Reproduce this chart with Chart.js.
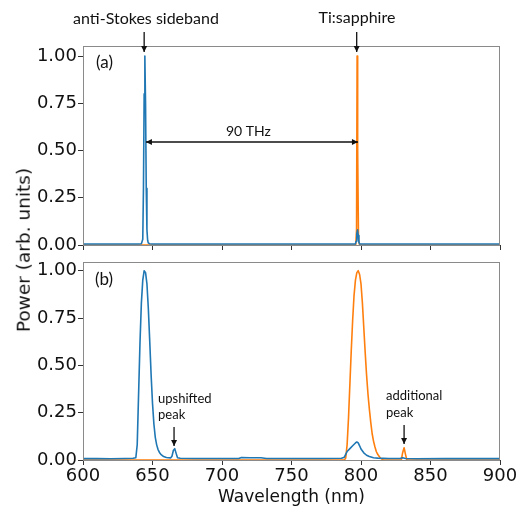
<!DOCTYPE html>
<html>
<head>
<meta charset="utf-8">
<script src="https://cdn.jsdelivr.net/npm/chart.js@4.4.0/dist/chart.umd.min.js"></script>
<style>
  body { margin: 0; background: #fff; }
  #page { position: relative; width: 526px; height: 513px; overflow: hidden; }
  #boxA { position: absolute; left: 0; top: 0; width: 526px; height: 265px; }
  #boxB { position: absolute; left: 0; top: 250px; width: 526px; height: 263px; }
  #ytitle {
    position: absolute; left: 24px; top: 250px;
    transform: translate(-50%, -50%) rotate(-90deg);
    font: 18.5px "DejaVu Sans"; line-height: 1; white-space: nowrap; color: #111;
  }
</style>
</head>
<body>
<div id="page">
  <div id="boxA"><canvas id="chartA" width="526" height="265"></canvas></div>
  <div id="boxB"><canvas id="chartB" width="526" height="263"></canvas></div>
  <div id="ytitle">Power (arb. units)</div>
</div>
<script>
// tick values
var xTicks = [600, 650, 700, 750, 800, 850, 900];
var yTicks = [0, 0.25, 0.5, 0.75, 1.0];

// panel (a) - narrow spectra
var aBlueX = [600, 620, 640, 642, 643, 643.5, 644, 644.5, 645, 645.5, 646, 646.5, 647, 648, 650, 660, 700, 750, 790, 796, 796.5, 797, 797.5, 798, 798.5, 799, 800, 820, 850, 880, 900];
var aBlueY = [0.005, 0.005, 0.005, 0.007, 0.03, 0.3, 0.8, 1.0, 0.75, 0.3, 0.08, 0.025, 0.01, 0.007, 0.005, 0.005, 0.005, 0.005, 0.005, 0.006, 0.02, 0.06, 0.08, 0.05, 0.015, 0.006, 0.005, 0.005, 0.005, 0.005, 0.005];
var aOrangeX = [600, 700, 790, 796.2, 796.8, 797.2, 797.6, 798.2, 799, 850, 900];
var aOrangeY = [0, 0, 0, 0, 0.08, 1.0, 0.5, 0.03, 0, 0, 0];

// panel (b) - broadened spectra
var bBlueX = [600, 610, 620, 630, 636, 638, 639, 640, 641, 642, 643, 644, 645, 646, 647, 648, 649, 650, 651, 652, 653, 654, 655, 656, 658, 660, 663, 664, 665, 666, 667, 668, 670, 680, 690, 700, 712, 714, 720, 728, 732, 750, 770, 786, 788, 789, 790, 792, 794, 796, 797, 798, 799, 800, 802, 804, 806, 809, 812, 820, 828, 830, 832, 840, 860, 880, 900];
var bBlueY = [0.007, 0.008, 0.007, 0.008, 0.009, 0.012, 0.08, 0.35, 0.62, 0.83, 0.95, 1.0, 0.99, 0.93, 0.8, 0.63, 0.45, 0.3, 0.19, 0.12, 0.08, 0.055, 0.04, 0.03, 0.018, 0.013, 0.011, 0.02, 0.05, 0.06, 0.035, 0.012, 0.009, 0.008, 0.008, 0.008, 0.008, 0.013, 0.012, 0.012, 0.008, 0.008, 0.008, 0.009, 0.015, 0.03, 0.045, 0.06, 0.075, 0.09, 0.095, 0.09, 0.075, 0.058, 0.038, 0.025, 0.018, 0.012, 0.01, 0.008, 0.008, 0.012, 0.008, 0.007, 0.007, 0.007, 0.007];
var bOrangeX = [600, 700, 788, 789, 790, 791, 792, 793, 794, 795, 796, 797, 798, 799, 800, 801, 802, 803, 804, 805, 806, 807, 808, 809, 810, 811, 812, 813, 814, 815, 816, 829, 830, 831, 832, 833, 860, 900];
var bOrangeY = [0, 0, 0, 0.01, 0.08, 0.22, 0.4, 0.58, 0.74, 0.87, 0.95, 0.99, 1.0, 0.98, 0.93, 0.83, 0.7, 0.57, 0.45, 0.35, 0.27, 0.2, 0.14, 0.1, 0.07, 0.045, 0.03, 0.02, 0.01, 0.005, 0, 0, 0.04, 0.065, 0.03, 0, 0, 0];

var blue = '#1f77b4';
var orange = '#ff7f0e';

function pairs(xs, ys) {
  var out = [];
  for (var i = 0; i < xs.length; i++) out.push({x: xs[i], y: ys[i]});
  return out;
}

// annotations, in data units (nm, power)
var notesA = [
  {text: '(a)', x: 609.4, y: 0.963, align: 'left', size: 17},
  {text: 'anti-Stokes sideband', x: 645.3, y: 1.196, align: 'center', size: 16},
  {text: 'Ti:sapphire', x: 797.1, y: 1.2, align: 'center', size: 16},
  {text: '90 THz', x: 719, y: 0.603, align: 'center', size: 14}
];
var arrowsA = [
  {x1: 644, y1: 1.127, x2: 644, y2: 1.021, both: false},
  {x1: 796.9, y1: 1.127, x2: 796.9, y2: 1.021, both: false},
  {x1: 645.3, y1: 0.545, x2: 797.8, y2: 0.545, both: true}
];
var notesB = [
  {text: '(b)', x: 608.6, y: 0.953, align: 'left', size: 17},
  {text: 'upshifted', x: 654, y: 0.322, align: 'left', size: 13},
  {text: 'peak', x: 654, y: 0.238, align: 'left', size: 13},
  {text: 'additional', x: 818, y: 0.338, align: 'left', size: 13},
  {text: 'peak', x: 818, y: 0.248, align: 'left', size: 13}
];
var arrowsB = [
  {x1: 665.5, y1: 0.174, x2: 665.5, y2: 0.074, both: false},
  {x1: 831, y1: 0.185, x2: 831, y2: 0.085, both: false}
];

function head(ctx, x1, y1, x2, y2) {
  var ang = Math.atan2(y2 - y1, x2 - x1);
  var len = 6, w = 3;
  ctx.beginPath();
  ctx.moveTo(x2, y2);
  ctx.lineTo(x2 - len * Math.cos(ang) + w * Math.sin(ang), y2 - len * Math.sin(ang) - w * Math.cos(ang));
  ctx.lineTo(x2 - len * Math.cos(ang) - w * Math.sin(ang), y2 - len * Math.sin(ang) + w * Math.cos(ang));
  ctx.closePath();
  ctx.fill();
}

function notesPlugin(notes, arrows) {
  return {
    id: 'notes',
    afterDraw: function(chart) {
      var ctx = chart.ctx, xs = chart.scales.x, ys = chart.scales.y;
      var a = chart.chartArea;
      ctx.save();
      // frame
      ctx.strokeStyle = '#8a8a8a';
      ctx.lineWidth = 1;
      ctx.strokeRect(a.left + 0.5, a.top + 0.5, a.right - a.left - 1, a.bottom - a.top);
      ctx.fillStyle = '#111';
      ctx.strokeStyle = '#111';
      ctx.lineWidth = 1.3;
      notes.forEach(function(n) {
        ctx.font = n.size + 'px Lato';
        ctx.textAlign = n.align;
        ctx.textBaseline = 'middle';
        ctx.fillText(n.text, xs.getPixelForValue(n.x), ys.getPixelForValue(n.y));
      });
      arrows.forEach(function(r) {
        var x1 = xs.getPixelForValue(r.x1), y1 = ys.getPixelForValue(r.y1);
        var x2 = xs.getPixelForValue(r.x2), y2 = ys.getPixelForValue(r.y2);
        ctx.beginPath();
        ctx.moveTo(x1, y1);
        ctx.lineTo(x2, y2);
        ctx.stroke();
        head(ctx, x1, y1, x2, y2);
        if (r.both) head(ctx, x2, y2, x1, y1);
      });
      ctx.restore();
    }
  };
}

function makeChart(id, blueData, orangeData, yMax, showX, pad, xHeight, notes, arrows) {
  return new Chart(document.getElementById(id), {
    type: 'line',
    data: {
      datasets: [
        {data: blueData, borderColor: blue, borderWidth: 1.6, borderJoinStyle: 'round', pointRadius: 0, tension: 0},
        {data: orangeData, borderColor: orange, borderWidth: 1.6, borderJoinStyle: 'round', pointRadius: 0, tension: 0}
      ]
    },
    options: {
      responsive: false,
      animation: false,
      events: [],
      layout: {padding: pad},
      plugins: {legend: {display: false}, tooltip: {enabled: false}},
      scales: {
        x: {
          type: 'linear', min: 600, max: 900,
          afterBuildTicks: function(s) { s.ticks = xTicks.map(function(v) { return {value: v}; }); },
          afterFit: function(s) { s.height = xHeight; },
          grid: {drawOnChartArea: false, drawTicks: true, tickLength: 5, color: '#333'},
          border: {display: false},
          ticks: {display: showX, padding: 1, maxRotation: 0, color: '#111', font: {family: 'DejaVu Sans', size: 18}},
          title: {display: showX, text: 'Wavelength (nm)', color: '#111', font: {family: 'DejaVu Sans', size: 17}, padding: {top: 0, bottom: 5}}
        },
        y: {
          type: 'linear', min: 0, max: yMax,
          afterBuildTicks: function(s) { s.ticks = yTicks.map(function(v) { return {value: v}; }); },
          afterFit: function(s) { s.width = 83; },
          grid: {drawOnChartArea: false, drawTicks: true, tickLength: 5, color: '#333'},
          border: {display: false},
          ticks: {padding: 1, color: '#111', font: {family: 'DejaVu Sans', size: 18},
            callback: function(v) { return v.toFixed(2); }}
        }
      }
    },
    plugins: [notesPlugin(notes, arrows)]
  });
}

makeChart('chartA', pairs(aBlueX, aBlueY), pairs(aOrangeX, aOrangeY), 1.053, false,
  {top: 46, right: 26, left: 0, bottom: 0}, 20, notesA, arrowsA);
makeChart('chartB', pairs(bBlueX, bBlueY), pairs(bOrangeX, bOrangeY), 1.046, true,
  {top: 12, right: 26, left: 0, bottom: 0}, 53, notesB, arrowsB);
</script>
</body>
</html>
